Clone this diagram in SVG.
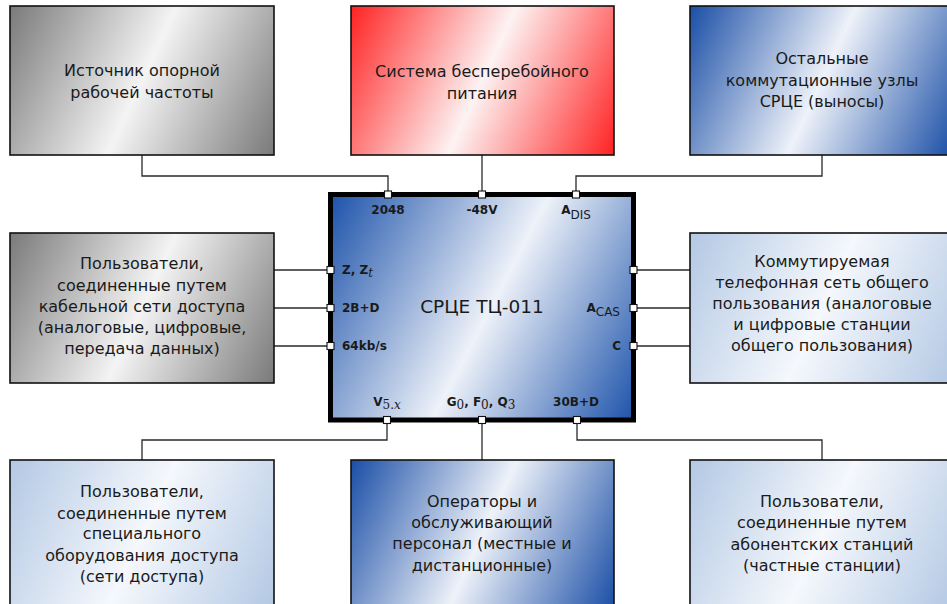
<svg xmlns="http://www.w3.org/2000/svg" width="947" height="604" viewBox="0 0 947 604">
<defs>
<linearGradient id="gGray" x1="0" y1="0" x2="1.18" y2="0.31">
<stop offset="0" stop-color="#7a7a7a"/><stop offset="0.5" stop-color="#f4f4f4"/><stop offset="1" stop-color="#7a7a7a"/>
</linearGradient>
<linearGradient id="gRed" x1="0" y1="0" x2="1.18" y2="0.31">
<stop offset="0" stop-color="#ff2222"/><stop offset="0.5" stop-color="#fdf3f3"/><stop offset="1" stop-color="#ff2222"/>
</linearGradient>
<linearGradient id="gBlue" x1="0" y1="0" x2="1.18" y2="0.31">
<stop offset="0" stop-color="#1a4ea6"/><stop offset="0.5" stop-color="#eef2f9"/><stop offset="1" stop-color="#1a4ea6"/>
</linearGradient>
<linearGradient id="gLight" x1="0" y1="0" x2="1.18" y2="0.31">
<stop offset="0" stop-color="#b3c8e4"/><stop offset="0.5" stop-color="#f5f8fc"/><stop offset="1" stop-color="#b3c8e4"/>
</linearGradient>
<linearGradient id="gCenter" x1="0" y1="0" x2="1.21" y2="0.47">
<stop offset="0" stop-color="#1c52aa"/><stop offset="0.52" stop-color="#eef2f9"/><stop offset="1" stop-color="#1c52aa"/>
</linearGradient>
<style>
.box{stroke:#111;stroke-width:1.6}
.t{font-family:"DejaVu Sans",sans-serif;font-size:16px;fill:#1a1a1a;text-anchor:middle}
.title{font-family:"DejaVu Sans",sans-serif;font-size:18.5px;fill:#1a1a1a;text-anchor:middle}
.p{font-family:"DejaVu Sans",sans-serif;font-size:12px;font-weight:bold;fill:#1a1a1a}
.sub{font-weight:normal}
.m{font-family:"DejaVu Serif",serif;font-weight:normal}
.mi{font-family:"DejaVu Serif",serif;font-weight:normal;font-style:italic}
.c{fill:none;stroke:#2a2a2a;stroke-width:1.3}
.port{fill:#fff;stroke:#111;stroke-width:1.1}
</style>
</defs>
<rect width="947" height="604" fill="#fff"/>

<g id="connectors">
<path class="c" d="M142 155V176H388V194"/>
<path class="c" d="M482 155V194"/>
<path class="c" d="M822 155V176H576V194"/>
<path class="c" d="M274 270H330M274 308H330M274 346H330"/>
<path class="c" d="M633 270H690M633 308H690M633 346H690"/>
<path class="c" d="M387 420V440H142V460"/>
<path class="c" d="M482 420V460"/>
<path class="c" d="M577 420V440H822V460"/>
</g>

<g id="n-source">
<rect class="box" x="10" y="6" width="264" height="149" fill="url(#gGray)"/>
<text class="t" x="142" y="76">Источник опорной</text>
<text class="t" x="142" y="98">рабочей частоты</text>
</g>

<g id="n-ups">
<rect class="box" x="351" y="6" width="263" height="149" fill="url(#gRed)"/>
<text class="t" x="482" y="77">Система бесперебойного</text>
<text class="t" x="482" y="99">питания</text>
</g>

<g id="n-other">
<rect class="box" x="690" y="6" width="264" height="149" fill="url(#gBlue)"/>
<text class="t" x="822" y="64">Остальные</text>
<text class="t" x="822" y="86">коммутационные узлы</text>
<text class="t" x="822" y="107">СРЦЕ (выносы)</text>
</g>

<g id="n-cable">
<rect class="box" x="10" y="233" width="264" height="150" fill="url(#gGray)"/>
<text class="t" x="142" y="269">Пользователи,</text>
<text class="t" x="142" y="291">соединенные путем</text>
<text class="t" x="142" y="312">кабельной сети доступа</text>
<text class="t" x="142" y="333">(аналоговые, цифровые,</text>
<text class="t" x="142" y="354">передача данных)</text>
</g>

<g id="n-pstn">
<rect class="box" x="690" y="233" width="264" height="150" fill="url(#gLight)"/>
<text class="t" x="822" y="267">Коммутируемая</text>
<text class="t" x="822" y="288">телефонная сеть общего</text>
<text class="t" x="822" y="309">пользования (аналоговые</text>
<text class="t" x="822" y="330">и цифровые станции</text>
<text class="t" x="822" y="351">общего пользования)</text>
</g>

<g id="n-special">
<rect class="box" x="10" y="460" width="264" height="150" fill="url(#gLight)"/>
<text class="t" x="142" y="497">Пользователи,</text>
<text class="t" x="142" y="519">соединенные путем</text>
<text class="t" x="142" y="539">специального</text>
<text class="t" x="142" y="561">оборудования доступа</text>
<text class="t" x="142" y="582">(сети доступа)</text>
</g>

<g id="n-operators">
<rect class="box" x="351" y="460" width="263" height="150" fill="url(#gBlue)"/>
<text class="t" x="482" y="507">Операторы и</text>
<text class="t" x="482" y="528">обслуживающий</text>
<text class="t" x="482" y="549">персонал (местные и</text>
<text class="t" x="482" y="571">дистанционные)</text>
</g>

<g id="n-subscriber">
<rect class="box" x="690" y="460" width="264" height="150" fill="url(#gLight)"/>
<text class="t" x="822" y="507">Пользователи,</text>
<text class="t" x="822" y="528">соединенные путем</text>
<text class="t" x="822" y="550">абонентских станций</text>
<text class="t" x="822" y="571">(частные станции)</text>
</g>

<g id="n-center">
<rect x="330.5" y="194.5" width="303" height="225.5" fill="url(#gCenter)" stroke="#000" stroke-width="5"/>
<text class="title" x="482" y="313">СРЦЕ ТЦ-011</text>
<text class="p" x="388" y="214" text-anchor="middle">2048</text>
<text class="p" x="482" y="214" text-anchor="middle">-48V</text>
<text class="p" x="576" y="214" text-anchor="middle">A<tspan class="sub" dy="5">DIS</tspan></text>
<text class="p" x="342" y="274">Z, Z<tspan class="mi" dy="3">t</tspan></text>
<text class="p" x="342" y="312">2B+D</text>
<text class="p" x="342" y="350">64kb/s</text>
<text class="p" x="620" y="312" text-anchor="end">A<tspan class="sub" dy="4">CAS</tspan></text>
<text class="p" x="621" y="350" text-anchor="end">C</text>
<text class="p" x="387" y="406" text-anchor="middle">V<tspan class="m" dy="3">5.</tspan><tspan class="mi">x</tspan></text>
<text class="p" x="481" y="406" text-anchor="middle">G<tspan class="m" dy="3">0</tspan><tspan dy="-3">, F</tspan><tspan class="m" dy="3">0</tspan><tspan dy="-3">, Q</tspan><tspan class="m" dy="3">3</tspan></text>
<text class="p" x="576" y="406" text-anchor="middle">30B+D</text>
</g>

<g id="ports">
<rect class="port" x="384.5" y="191" width="7" height="7"/>
<rect class="port" x="478.5" y="191" width="7" height="7"/>
<rect class="port" x="572.5" y="191" width="7" height="7"/>
<rect class="port" x="327" y="266.5" width="7" height="7"/>
<rect class="port" x="327" y="304.5" width="7" height="7"/>
<rect class="port" x="327" y="342.5" width="7" height="7"/>
<rect class="port" x="630" y="266.5" width="7" height="7"/>
<rect class="port" x="630" y="304.5" width="7" height="7"/>
<rect class="port" x="630" y="342.5" width="7" height="7"/>
<rect class="port" x="383.5" y="416.5" width="7" height="7"/>
<rect class="port" x="478.5" y="416.5" width="7" height="7"/>
<rect class="port" x="573.5" y="416.5" width="7" height="7"/>
</g>
</svg>
